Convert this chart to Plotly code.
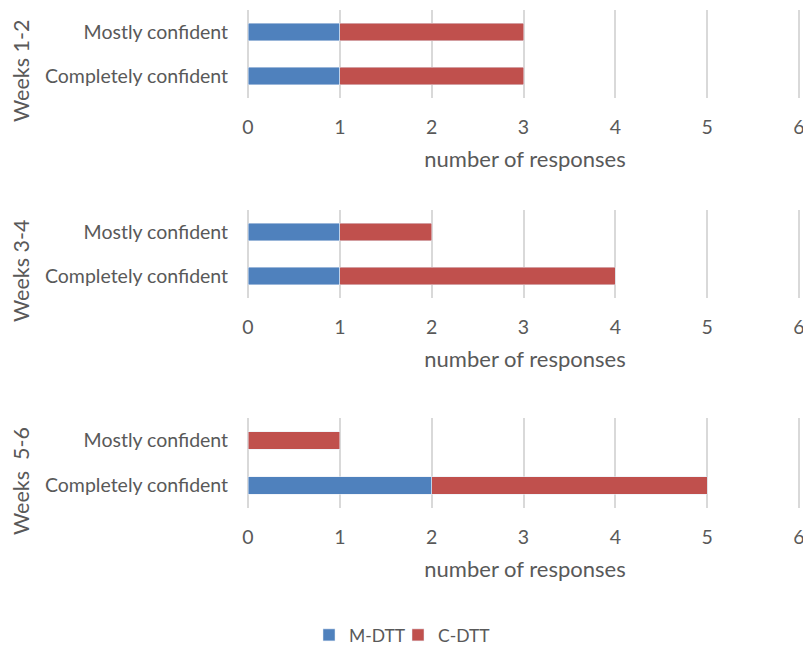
import plotly.graph_objects as go
from plotly.subplots import make_subplots

periods = ["Weeks 1-2", "Weeks 3-4", "Weeks\u00a0 5-6"]
categories = ["Completely confident", "Mostly confident"]
m_dtt = [[1, 1], [1, 1], [2, 0]]
c_dtt = [[2, 2], [3, 1], [3, 1]]
x_ticks = [0, 1, 2, 3, 4, 5, 6]

BLUE = "#4F81BD"
RED = "#C0504D"
GREY = "#595959"
GRID = "#D9D9D9"
FONT = "Lato"

W, H = 803, 645
fig = make_subplots(rows=3, cols=1)

# page-pixel layout of plot areas (top, bottom)
panels = [(10, 98), (210, 298), (418, 508)]
title_centers = [71, 271, 481]
X0, X6, XR = 248, 799, 802
x_max = 6 * (XR - X0) / (X6 - X0)


def px_y(p):
    return 1 - p / H


def px_x(p):
    return p / W


for i in range(3):
    r = i + 1
    fig.add_trace(go.Bar(y=categories, x=m_dtt[i], orientation="h", name="M-DTT",
                         marker_color=BLUE, showlegend=(i == 0), legend="legend"),
                  row=r, col=1)
    fig.add_trace(go.Bar(y=categories, x=c_dtt[i], orientation="h", name="C-DTT",
                         marker_color=RED, showlegend=(i == 0), legend="legend2"),
                  row=r, col=1)
    top, bot = panels[i]
    xa = "xaxis" if i == 0 else f"xaxis{r}"
    ya = "yaxis" if i == 0 else f"yaxis{r}"
    fig.layout[ya].update(domain=[px_y(bot), px_y(top)], range=[-0.5, 1.5],
                          categoryorder="array", categoryarray=categories,
                          showgrid=False, zeroline=False, showline=False,
                          automargin=False,
                          ticks="outside", ticklen=15, tickcolor="rgba(0,0,0,0)",
                          tickfont=dict(size=19.5, color=GREY, family=FONT))
    fig.layout[xa].update(domain=[px_x(X0), px_x(XR)], range=[0, x_max],
                          tickvals=x_ticks, ticktext=[str(v) for v in x_ticks],
                          ticklabeloverflow="allow",
                          showgrid=True, gridcolor=GRID, gridwidth=1.5,
                          zeroline=True, zerolinecolor=GRID, zerolinewidth=1.5,
                          showline=False, automargin=False,
                          ticks="outside", ticklen=12, tickcolor="rgba(0,0,0,0)",
                          tickfont=dict(size=19.5, color=GREY, family=FONT),
                          title=dict(text="number of responses", standoff=14,
                                     font=dict(size=22, color=GREY, family=FONT)))
    fig.add_annotation(text=periods[i], xref="paper", yref="paper",
                       x=px_x(21), y=px_y(title_centers[i]), textangle=-90,
                       showarrow=False, xanchor="center", yanchor="middle",
                       font=dict(size=21.5, color=GREY, family=FONT))

legend_style = dict(orientation="h", xanchor="left", y=px_y(635), yanchor="middle",
                    font=dict(size=17.5, color=GREY, family=FONT), itemwidth=30,
                    bgcolor="rgba(0,0,0,0)")
fig.update_layout(
    width=W, height=H,
    margin=dict(l=0, r=0, t=0, b=0, autoexpand=False),
    paper_bgcolor="white", plot_bgcolor="white",
    barmode="stack", bargap=0.61,
    font=dict(family=FONT, color=GREY),
    legend=dict(x=px_x(309), **legend_style),
    legend2=dict(x=px_x(398), **legend_style),
)

fig.write_html("out.html", config={"displayModeBar": False},
               post_script="document.body.style.margin='0';"
                           "document.body.style.overflow='hidden';")
